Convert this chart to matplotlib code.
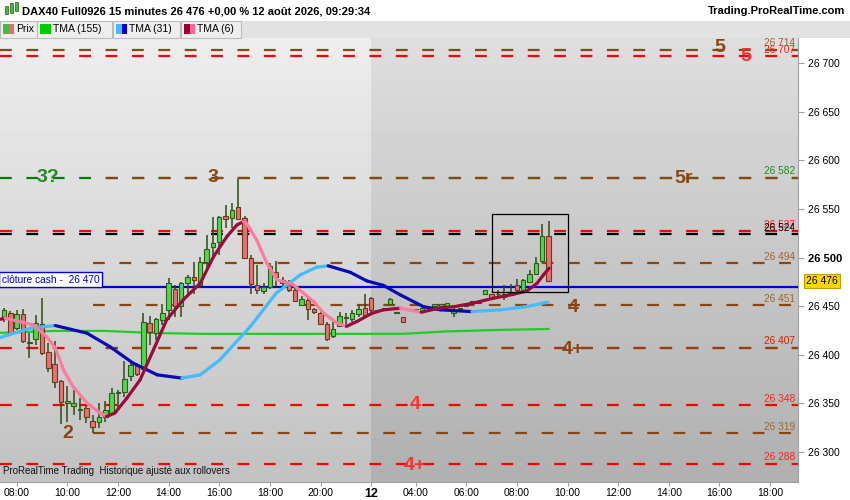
import matplotlib
matplotlib.use("Agg")
import matplotlib.pyplot as plt
from matplotlib.patches import Rectangle
from matplotlib.collections import LineCollection
import numpy as np

plt.rcParams['font.family'] = ['Liberation Sans', 'DejaVu Sans']
plt.rcParams['lines.scale_dashes'] = False

# -----------------------------
# 15 min candles, index 0 = 11 Aug 07:30, index 58 = first bar of 12 Aug
# -----------------------------
opens = [26437, 26443, 26427, 26442, 26412, 26416, 26432, 26403, 26390, 26373,
         26350, 26347, 26343, 26345, 26332, 26331, 26336, 26340, 26361, 26362,
         26378, 26388, 26385, 26433, 26422, 26436, 26446, 26468, 26450, 26474,
         26480, 26472, 26495, 26511, 26516, 26543, 26541, 26552, 26541, 26500,
         26472, 26466, 26470, 26485, 26477, 26472, 26467, 26451, 26456, 26447,
         26443, 26432, 26419, 26430, 26438, 26437, 26442, 26448, 26458, 26445,
         26446, 26452, 26443, 26439, 26446, 26446, 26444, 26448, 26450, 26450,
         26450, 26443, 26447, 26450, 26454, 26453, 26463, 26462, 26462, 26459,
         26464, 26472, 26467, 26475, 26483, 26496, 26522]
highs = [26448, 26445, 26446, 26447, 26422, 26441, 26458, 26412, 26414, 26374,
         26368, 26364, 26355, 26348, 26338, 26350, 26352, 26366, 26364, 26394,
         26393, 26391, 26443, 26440, 26438, 26452, 26479, 26472, 26475, 26482,
         26495, 26501, 26523, 26542, 26543, 26554, 26556, 26581, 26543, 26503,
         26492, 26474, 26494, 26496, 26480, 26477, 26471, 26460, 26458, 26448,
         26445, 26434, 26434, 26444, 26443, 26446, 26451, 26462, 26459, 26446,
         26448, 26458, 26444, 26439, 26446, 26446, 26448, 26448, 26452, 26452,
         26453, 26450, 26447, 26451, 26455, 26454, 26467, 26463, 26467, 26472,
         26473, 26478, 26478, 26487, 26501, 26535, 26538]
lows = [26434, 26420, 26425, 26412, 26397, 26410, 26400, 26382, 26366, 26329,
        26331, 26338, 26333, 26330, 26319, 26325, 26331, 26338, 26345, 26357,
        26373, 26378, 26384, 26410, 26415, 26431, 26436, 26439, 26439, 26462,
        26462, 26469, 26487, 26498, 26503, 26530, 26530, 26539, 26499, 26463,
        26463, 26462, 26468, 26470, 26471, 26465, 26454, 26450, 26436, 26442,
        26431, 26414, 26417, 26429, 26431, 26434, 26439, 26439, 26444, 26445,
        26445, 26452, 26443, 26434, 26446, 26446, 26444, 26448, 26450, 26450,
        26450, 26439, 26447, 26450, 26454, 26453, 26463, 26457, 26457, 26456,
        26460, 26465, 26466, 26474, 26483, 26495, 26476]
closes = [26446, 26422, 26442, 26414, 26413, 26433, 26402, 26386, 26372, 26351,
          26352, 26350, 26344, 26336, 26326, 26336, 26343, 26361, 26362, 26375,
          26389, 26380, 26434, 26423, 26437, 26443, 26474, 26450, 26474, 26480,
          26477, 26495, 26509, 26515, 26542, 26540, 26549, 26540, 26500, 26473,
          26467, 26470, 26491, 26480, 26474, 26467, 26455, 26457, 26447, 26444,
          26432, 26416, 26426, 26440, 26439, 26443, 26447, 26441, 26446, 26445,
          26447, 26457, 26444, 26434, 26446, 26446, 26448, 26448, 26452, 26452,
          26453, 26446, 26447, 26451, 26455, 26454, 26467, 26458, 26463, 26463,
          26465, 26467, 26477, 26483, 26494, 26522, 26476]

# TMA lines (bar index, price)
tma155_x = [-0.6, 8, 16, 23, 31, 47, 63, 70, 78, 86]
tma155_y = [26422.5, 26424.5, 26424.5, 26422.5, 26421.5, 26421.5, 26421.5, 26424, 26425.5, 26426.5]

tma31_x = [-0.6, 4.1, 8.1, 13.1, 16.7, 20.4, 24.2, 28.1, 31, 34.1, 38.9, 43, 46.8,
           49.4, 51.2, 54.7, 57.3, 59.9, 62.6, 66.2, 68.9, 73.9, 78.4, 82.6, 85.9]
tma31_y = [26417.7, 26427.3, 26430.0, 26422.2, 26408.4, 26391.3, 26379.3, 26375.9,
           26379.3, 26394.7, 26429.0, 26463.4, 26482.2, 26490.1, 26491.5, 26484.8,
           26476.0, 26471.4, 26461.6, 26449.6, 26446.2, 26444.4, 26446.2, 26449.6, 26454.1]

tma6_x = [-0.6, 0.2, 2.5, 4.6, 6.7, 8.1, 9.4, 10.9, 13.1, 15.2, 16.2, 17.5, 19.4, 21.5,
          23.6, 25.7, 28.3, 31, 33.1, 35.2, 36.8, 37.8, 38.3, 39.9, 41.5, 43.1, 44.7,
          45.7, 47.3, 48.9, 50.5, 52.6, 54.1, 55.7, 58.1, 59.9, 62.6, 65.9, 68.9, 71.2,
          74.1, 77.3, 80.4, 82.6, 84.2, 85.2, 86.1]
tma6_y = [26436.5, 26437.6, 26434.1, 26430.7, 26418.7, 26406.8, 26384.4, 26367.3, 26350.2,
          26339.9, 26336.4, 26339.9, 26355.3, 26374.2, 26405.0, 26436.0, 26456.5, 26473.6,
          26501.0, 26521.6, 26533.6, 26537.0, 26535.4, 26518.2, 26494.5, 26477.0, 26474.3,
          26471.9, 26463.4, 26454.7, 26442.8, 26432.5, 26429.2, 26434.1, 26442.6, 26446.2,
          26447.9, 26443.8, 26448.2, 26449.6, 26453.1, 26458.2, 26462.1, 26465.7, 26473.6,
          26482.2, 26489.1]

# horizontal levels: price, line colour, first bar, label text, label colour
level_prices = [26714, 26707, 26582, 26582, 26527, 26524, 26494, 26451, 26407, 26407, 26348, 26319, 26288]
level_colors = ['#8B4513', '#FF0000', '#008000', '#8B4513', '#FF0000', '#000000', '#8B4513',
                '#8B4513', '#FF0000', '#8B4513', '#FF0000', '#8B4513', '#FF0000']
level_start = [-0.6, -0.6, -0.6, 14, -0.6, -0.6, 14, 14, -0.6, 14, -0.6, 14, -0.6]
level_offset = [0, 0, 0, 9.5, 0, 0, 0, 0, 0, 9.5, 0, 0, 0]
level_labels = ['26 714', '26 707', '26 582', None, '26 527', '26 524', '26 494', '26 451',
                '26 407', None, '26 348', '26 319', '26 288']
label_colors = ['#9A6633', '#FF2020', '#1E8A1E', None, '#FF2020', '#000000', '#9A6633',
                '#9A6633', '#CC2200', None, '#FF2020', '#9A6633', '#FF2020']

# wave counts
wave_text = ['5', '5', '3?', '3', '5r', '4', '4+', '4', '4+', '2']
wave_x = [113.1, 117.1, 6.9, 33, 107.3, 89.9, 89.9, 64.9, 64.9, 10]
wave_y = [26716, 26707, 26582, 26582, 26581, 26449, 26405, 26349, 26286, 26319]
wave_colors = ['#8B4513', '#EE3333', '#228B22', '#8B4513', '#8B4513', '#8B4513', '#8B4513',
               '#FF3030', '#FF3030', '#8B4513']

price_ticks = [26300, 26350, 26400, 26450, 26500, 26550, 26600, 26650, 26700]
time_ticks = [2, 10, 18, 26, 34, 42, 50, 58, 65, 73, 81, 89, 97, 105, 113, 121]
time_labels = ['08:00', '10:00', '12:00', '14:00', '16:00', '18:00', '20:00', '12',
               '04:00', '06:00', '08:00', '10:00', '12:00', '14:00', '16:00', '18:00']

cash_close = 26470
last_price = 26476

# -----------------------------
# Figure
# -----------------------------
fig = plt.figure(figsize=(8.5, 5), dpi=100)
fig.patch.set_facecolor('white')
ax = fig.add_axes([0, 18 / 500, 798 / 850, 444 / 500])

x_left, x_right = -0.63, 125.4
y_low, y_high = 26269, 26726
ax.set_xlim(x_left, x_right)
ax.set_ylim(y_low, y_high)

# background gradients (day 11 lighter, day 12 darker)
grad = np.linspace(1, 0, 100).reshape(-1, 1)
ax.imshow(0.93 - 0.17 * (1 - grad), cmap='gray', vmin=0, vmax=1, aspect='auto',
          extent=[x_left, 57.9, y_low, y_high], zorder=0)
ax.imshow(0.87 - 0.18 * (1 - grad), cmap='gray', vmin=0, vmax=1, aspect='auto',
          extent=[57.9, x_right, y_low, y_high], zorder=0)

# levels
for p, c, s, off in zip(level_prices, level_colors, level_start, level_offset):
    ax.plot([s, x_right], [p, p], color=c, lw=1.6, zorder=2,
            linestyle=(off, (8.5, 10.5)), dash_capstyle='butt')
for p, t, c in zip(level_prices, level_labels, label_colors):
    if t:
        ax.text(124.9, p + 1.5, t, color=c, fontsize=7.3, ha='right', va='bottom', zorder=6)

# cash close line
ax.axhline(cash_close, color='#0000DD', lw=1.6, zorder=3)
ax.text(-0.35, cash_close + 2.2, 'clôture cash -  26 470', color='#0000DD', fontsize=7.3,
        ha='left', va='bottom', zorder=7,
        bbox=dict(boxstyle='square,pad=0.25', fc='white', ec='#0000DD', lw=1))

# TMA lines, colour depends on slope
def two_tone(xs, ys, up, down, lw, z):
    pts = np.column_stack([xs, ys])
    segs = np.stack([pts[:-1], pts[1:]], axis=1)
    cols = [up if b >= a else down for a, b in zip(ys[:-1], ys[1:])]
    ax.add_collection(LineCollection(segs, colors=cols, linewidths=lw,
                                     capstyle='round', joinstyle='round', zorder=z))

ax.plot(tma155_x, tma155_y, color='#22CC22', lw=1.6, zorder=3)

# candles
idx = np.arange(len(opens))
o = np.array(opens); h = np.array(highs); l = np.array(lows); c = np.array(closes)
up = c >= o
ax.vlines(idx, l, h, color='#2E4A12', lw=1.1, zorder=4)
body_bottom = np.minimum(o, c)
body_height = np.maximum(np.abs(c - o), 0.8)
ax.bar(idx[up], body_height[up], bottom=body_bottom[up], width=0.7,
       color='#4CD94C', edgecolor='#2E5A1A', lw=0.8, zorder=5)
ax.bar(idx[~up], body_height[~up], bottom=body_bottom[~up], width=0.7,
       color='#E87272', edgecolor='#6A3A1A', lw=0.8, zorder=5)

two_tone(tma31_x, tma31_y, '#44BBFF', '#0A0AB4', 2.3, 6)
two_tone(tma6_x, tma6_y, '#9A0A3C', '#FF7A9E', 2.3, 6)

# selection box
ax.add_patch(Rectangle((77.1, 26464.7), 12.0, 80.6, fill=False, ec='black', lw=0.9, zorder=7))

# wave counts
for t, x, y, col in zip(wave_text, wave_x, wave_y, wave_colors):
    ax.text(x, y, t, color=col, fontsize=14, fontweight='bold', ha='center', va='center', zorder=8)

ax.text(0.004, 0.014, 'ProRealTime Trading  Historique ajusté aux rollovers', transform=ax.transAxes,
        fontsize=7, color='#111111', ha='left', va='bottom', zorder=8)

# axes
for s in ['left', 'top']:
    ax.spines[s].set_visible(False)
ax.spines['right'].set_color('#A0A0A0')
ax.spines['bottom'].set_color('#A0A0A0')
ax.yaxis.tick_right()
ax.set_yticks(price_ticks)
ax.set_yticklabels([f'{v // 1000} {v % 1000:03d}' for v in price_ticks])
ax.tick_params(axis='y', direction='out', length=4, width=0.8, color='#A0A0A0', labelsize=7.5, pad=3)
for lab in ax.get_yticklabels():
    if lab.get_text() == '26 500':
        lab.set_fontweight('bold')
        lab.set_fontsize(8)
ax.set_xticks(time_ticks)
ax.set_xticklabels(time_labels)
ax.tick_params(axis='x', direction='out', length=3, width=0.8, color='#A0A0A0', labelsize=7.5, pad=1.5)
for lab in ax.get_xticklabels():
    if lab.get_text() == '12':
        lab.set_fontweight('bold')
        lab.set_fontsize(9)

ax.annotate(f'{last_price // 1000} {last_price % 1000:03d}', xy=(1.0, last_price),
            xycoords=('axes fraction', 'data'), xytext=(6, 0), textcoords='offset points',
            fontsize=7.5, va='center', ha='left', annotation_clip=False,
            bbox=dict(boxstyle='square,pad=0.2', fc='#FFD700', ec='#B8A000', lw=0.8))

# header
fig.text(22 / 850, 1 - 11 / 500, 'DAX40 Full0926 15 minutes 26 476 +0,00 % 12 août 2026, 09:29:34',
         fontsize=8, fontweight='bold', ha='left', va='center')
fig.text(845 / 850, 1 - 11 / 500, 'Trading.ProRealTime.com', fontsize=8, fontweight='bold',
         ha='right', va='center')
# header icon
for x0, y0, hgt, col in [(5, 6, 8, '#44BB44'), (10, 3, 10, '#44BB44'), (15, 2, 9, '#44BB44')]:
    fig.patches.append(Rectangle((x0 / 850, 1 - (y0 + hgt) / 500), 3 / 850, hgt / 500,
                                 transform=fig.transFigure, fc=col, ec='#2E5A1A', lw=0.5))

# legend strip
fig.patches.append(Rectangle((0, 1 - 38 / 500), 1, 17 / 500, transform=fig.transFigure,
                             fc='#E2E2E2', ec='none'))
boxes = [(0, 37, 'Prix', ['#44BB44', '#E86A6A']),
         (37, 112, 'TMA (155)', ['#00CC00']),
         (113, 180, 'TMA (31)', ['#44BBFF', '#0000CC']),
         (181, 241, 'TMA (6)', ['#990033', '#FF6699'])]
for x0, x1, name, sw in boxes:
    fig.patches.append(Rectangle((x0 / 850, 1 - 38 / 500), (x1 - x0) / 850, 17 / 500,
                                 transform=fig.transFigure, fc='#EEEEEE', ec='#BBBBBB', lw=0.8))
    sx = x0 + 3
    for col in sw:
        w = 11 / len(sw)
        fig.patches.append(Rectangle((sx / 850, 1 - 34 / 500), w / 850, 10 / 500,
                                     transform=fig.transFigure, fc=col, ec='none'))
        sx += w
    fig.text((x0 + 16) / 850, 1 - 29.5 / 500, name, fontsize=7.5, ha='left', va='center')

fig.savefig('out.png', dpi=100)
